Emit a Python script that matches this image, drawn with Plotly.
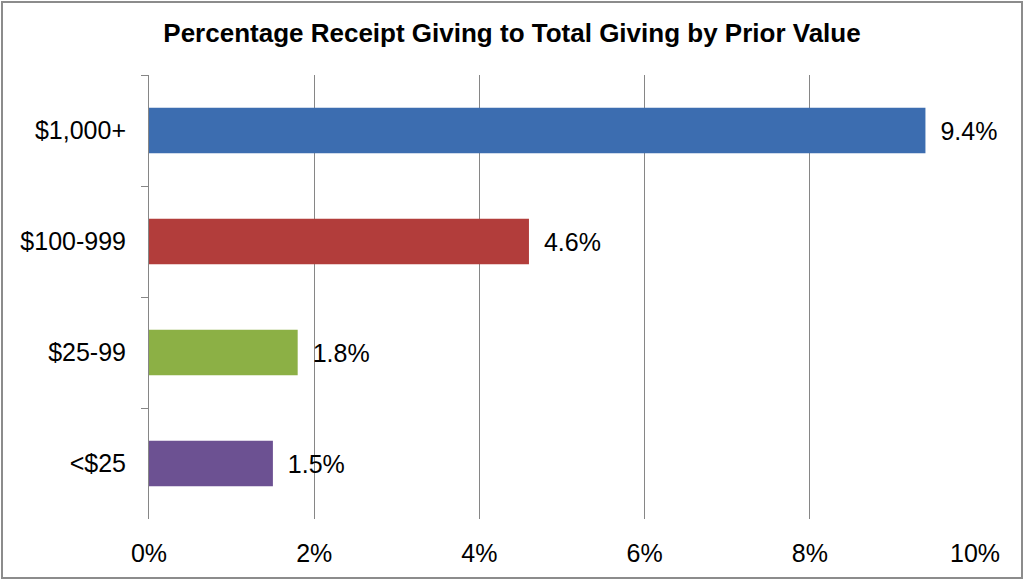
import plotly.graph_objects as go

categories = ["$1,000+", "$100-999", "$25-99", "<$25"]
values = [9.4, 4.6, 1.8, 1.5]
colors = ["#3C6DB0", "#B23D3B", "#8CB045", "#6C5192"]
x_ticks = [0, 2, 4, 6, 8, 10]
x_tick_labels = ["0%", "2%", "4%", "6%", "8%", "10%"]

W, H = 1024, 580
L, R, T, B = 149, 49, 75, 61
pw, ph = W - L - R, H - T - B
FONT = "Liberation Sans, Arial"

fig = go.Figure(go.Bar(
    y=categories, x=values, orientation="h",
    marker=dict(color=colors, line=dict(width=0)),
    width=0.41,
    text=[" \u2009" + f"{v:.1f}%" for v in values],
    textposition="outside",
    textfont=dict(family=FONT, size=25, color="#000000"),
    cliponaxis=False,
))

fig.update_layout(
    width=W, height=H,
    margin=dict(l=L, r=R, t=T, b=B),
    paper_bgcolor="white", plot_bgcolor="white",
    showlegend=False,
    title=dict(text="<b>Percentage Receipt Giving to Total Giving by Prior Value</b>",
               x=0.5, xanchor="center", y=1 - 33 / H, yanchor="middle",
               font=dict(family=FONT, size=26, color="#000000")),
    font=dict(family=FONT, size=25, color="#000000"),
    xaxis=dict(range=[0, 10], tickvals=x_ticks, ticktext=x_tick_labels,
               showgrid=True, gridcolor="#868686", gridwidth=1,
               zeroline=False, showline=False, ticks="",
               ticklabelstandoff=17,
               tickfont=dict(size=25, color="#000000")),
    yaxis=dict(autorange="reversed", showline=True, linecolor="#868686", linewidth=1,
               ticks="outside", tickson="boundaries", ticklen=7, tickcolor="#868686",
               showgrid=False, ticklabelstandoff=17,
               tickfont=dict(size=25, color="#000000")),
    shapes=[dict(type="rect", xref="paper", yref="paper",
                 x0=(2 - L) / pw, x1=(W - 2 - L) / pw,
                 y0=-(B - 2) / ph, y1=1 + (T - 2) / ph,
                 line=dict(color="#8C8C8C", width=2), fillcolor="rgba(0,0,0,0)",
                 layer="above")],
)

fig.write_html("out.html", config={"displayModeBar": False},
               post_script="document.body.style.margin='0';")
